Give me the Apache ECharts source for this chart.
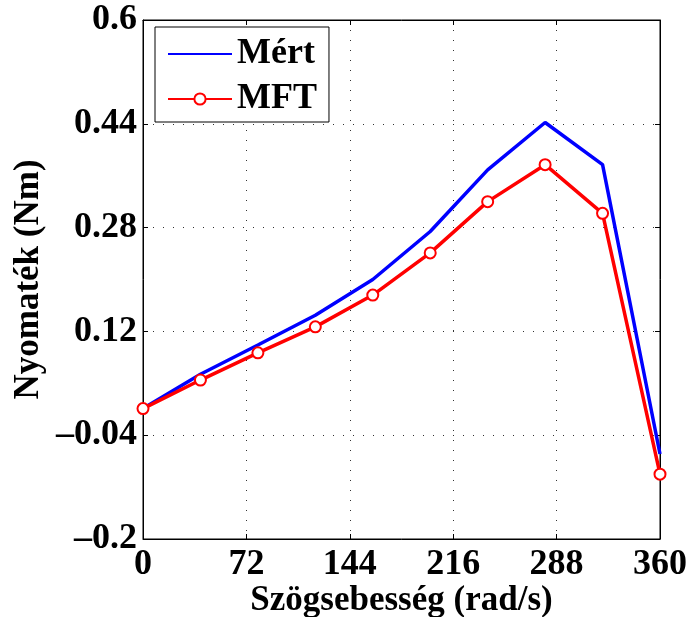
<html>
<head>
    <meta charset="utf-8">
    <title>Nyomaték</title>
    <script src="https://cdn.jsdelivr.net/npm/echarts@6/dist/echarts.min.js"></script>
    <style>
        html, body, #chart {
            margin: 0;
            padding: 0;
            width: 688px;
            height: 617px;
            background: #fff;
        }
    </style>
</head>
<body>
    <div id="chart"></div>
    <script>
        // data
        var speed = [0, 40, 80, 120, 160, 200, 240, 280, 320, 360];
        var mert = [0.001, 0.054, 0.099, 0.145, 0.200, 0.274, 0.369, 0.442, 0.377, -0.069];
        var mft = [0.001, 0.045, 0.087, 0.127, 0.176, 0.241, 0.320, 0.377, 0.302, -0.100];
        var xTicks = [0, 72, 144, 216, 288, 360];
        var yTicks = [-0.2, -0.04, 0.12, 0.28, 0.44, 0.6];

        var font = '"Liberation Serif", "Times New Roman", Times, serif';

        function pairs(xs, ys) {
            return xs.map(function (x, i) { return [x, ys[i]]; });
        }

        function yLabel(v) {
            var s = String(+v.toFixed(2));
            return s.replace('-', '\u2013');
        }

        var dotted = { show: true, lineStyle: { color: '#333', type: [1, 9], width: 1 } };
        var tickStyle = { show: true, inside: true, length: 5, lineStyle: { color: '#000' } };
        var labelStyle = { fontFamily: font, fontWeight: 'bold', fontSize: 36, color: '#000' };

        var option = {
            animation: false,
            backgroundColor: '#fff',
            grid: {
                left: 143, right: 28, top: 20, bottom: 78,
                outerBoundsMode: 'none',
                show: true, borderColor: '#000', borderWidth: 1
            },
            legend: {
                left: 155,
                top: 27,
                orient: 'vertical',
                backgroundColor: '#fff',
                borderColor: '#000',
                borderWidth: 1,
                padding: [9, 12, 5, 12],
                itemWidth: 64,
                itemHeight: 14,
                itemGap: 9,
                textStyle: { fontFamily: font, fontWeight: 'bold', fontSize: 36, lineHeight: 36, color: '#000' },
                data: [
                    { name: 'Mért', itemStyle: { opacity: 0 } },
                    { name: 'MFT' }
                ]
            },
            xAxis: [{
                type: 'value',
                min: xTicks[0],
                max: xTicks[xTicks.length - 1],
                interval: xTicks[1] - xTicks[0],
                name: 'Szögsebesség (rad/s)',
                nameLocation: 'middle',
                nameGap: 44,
                nameMoveOverlap: false,
                nameTextStyle: { fontFamily: font, fontWeight: 'bold', fontSize: 35, color: '#000' },
                axisLine: { show: true, onZero: false, lineStyle: { color: '#000', width: 1 } },
                axisTick: tickStyle,
                axisLabel: Object.assign({ margin: 8 }, labelStyle),
                splitLine: dotted
            }, {
                type: 'value',
                position: 'top',
                min: xTicks[0],
                max: xTicks[xTicks.length - 1],
                interval: xTicks[1] - xTicks[0],
                axisLine: { show: true, onZero: false, lineStyle: { color: '#000' } },
                axisTick: tickStyle,
                axisLabel: { show: false },
                splitLine: { show: false }
            }],
            yAxis: [{
                type: 'value',
                min: yTicks[0],
                max: yTicks[yTicks.length - 1],
                interval: 0.16,
                name: 'Nyomaték (Nm)',
                nameLocation: 'middle',
                nameGap: 97,
                nameMoveOverlap: false,
                nameTextStyle: { fontFamily: font, fontWeight: 'bold', fontSize: 35, color: '#000' },
                axisLine: { show: true, onZero: false, lineStyle: { color: '#000', width: 1 } },
                axisTick: tickStyle,
                axisLabel: Object.assign({ margin: 6, formatter: yLabel }, labelStyle),
                splitLine: dotted
            }, {
                type: 'value',
                position: 'right',
                min: yTicks[0],
                max: yTicks[yTicks.length - 1],
                interval: 0.16,
                axisLine: { show: true, onZero: false, lineStyle: { color: '#000' } },
                axisTick: tickStyle,
                axisLabel: { show: false },
                splitLine: { show: false }
            }],
            series: [{
                name: 'Mért',
                type: 'line',
                data: pairs(speed, mert),
                showSymbol: false,
                symbol: 'none',
                lineStyle: { color: '#0000ff', width: 3.5 },
                itemStyle: { color: '#0000ff' },
                z: 2
            }, {
                name: 'MFT',
                type: 'line',
                data: pairs(speed, mft),
                symbol: 'emptyCircle',
                symbolSize: 11,
                lineStyle: { color: '#ff0000', width: 3.5 },
                itemStyle: { color: '#ff0000', borderColor: '#ff0000', borderWidth: 3.5 },
                z: 3
            }]
        };

        var chart = echarts.init(document.getElementById('chart'), null, { renderer: 'canvas' });
        chart.setOption(option);
    </script>
</body>
</html>
